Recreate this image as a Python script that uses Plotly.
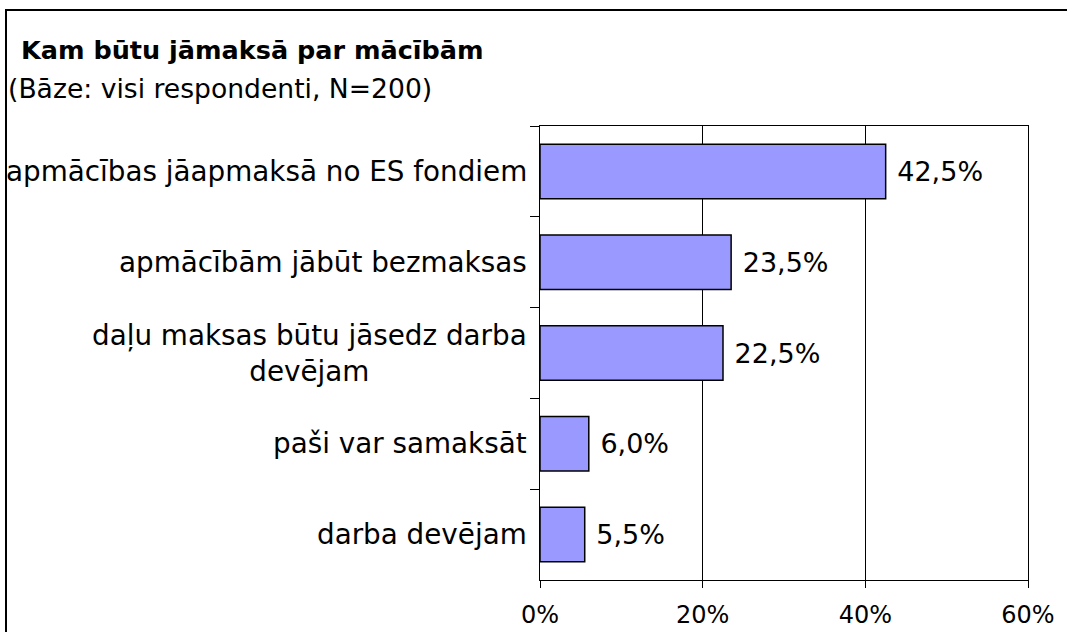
import plotly.graph_objects as go

categories = [
    "apmācības jāapmaksā no ES fondiem",
    "apmācībām jābūt bezmaksas",
    "daļu maksas būtu jāsedz darba<br>devējam",
    "paši var samaksāt",
    "darba devējam",
]
values = [42.5, 23.5, 22.5, 6.0, 5.5]
tick_vals = [0, 20, 40, 60]
tick_labels = ["0%", "20%", "40%", "60%"]
title_text = "Kam būtu jāmaksā par mācībām"
subtitle_text = "(Bāze: visi respondenti, N=200)"

W, H = 1067, 632
L, R, T, B = 540, 39, 126, 52
pw = W - L - R
ph = H - T - B

def px_x(px):
    return (px - L) / pw

def px_y(py):
    return (H - B - py) / ph

FONT = "DejaVu Sans"

fig = go.Figure(
    go.Bar(
        x=values,
        y=categories,
        orientation="h",
        marker=dict(color="#9999FF", line=dict(color="black", width=1.5)),
        texttemplate=" %{x:.1f}%",
        textposition="outside",
        textfont=dict(family=FONT, size=27, color="black"),
        cliponaxis=False,
        width=0.6,
    )
)

annotations = [
    dict(text="<b>" + title_text + "</b>", xref="paper", yref="paper",
         x=px_x(19), y=px_y(50), xanchor="left", yanchor="middle",
         showarrow=False, font=dict(family=FONT, size=25.5, color="black")),
    dict(text=subtitle_text, xref="paper", yref="paper",
         x=px_x(6), y=px_y(89), xanchor="left", yanchor="middle",
         showarrow=False, font=dict(family=FONT, size=26.6, color="black")),
]
for c in categories:
    annotations.append(dict(
        text=c, xref="paper", yref="y", x=px_x(529), y=c,
        xanchor="right", yanchor="middle", align="center", showarrow=False,
        font=dict(family=FONT, size=27.8, color="black"),
    ))

fig.update_layout(
    width=W, height=H,
    margin=dict(l=L, r=R, t=T, b=B, pad=0, autoexpand=False),
    paper_bgcolor="white", plot_bgcolor="white",
    separators=", ",
    showlegend=False,
    annotations=annotations,
    shapes=[dict(type="rect", xref="paper", yref="paper",
                 x0=px_x(6), x1=px_x(1080), y0=px_y(10), y1=px_y(660),
                 line=dict(color="black", width=2), fillcolor="rgba(0,0,0,0)",
                 layer="below")],
    xaxis=dict(
        range=[0, 60], tickvals=tick_vals, ticktext=tick_labels,
        showgrid=True, gridcolor="black", gridwidth=1,
        showline=True, linecolor="black", linewidth=1, mirror=True,
        ticks="outside", ticklen=7, tickcolor="black",
        ticklabelstandoff=6, automargin=False,
        tickfont=dict(family=FONT, size=24, color="black"),
        zeroline=False, fixedrange=True,
    ),
    yaxis=dict(
        type="category", categoryorder="array", categoryarray=categories,
        autorange="reversed", automargin=False,
        showticklabels=False, showgrid=False,
        showline=True, linecolor="black", linewidth=1, mirror=True,
        ticks="outside", ticklen=9, tickcolor="black", tickson="boundaries",
        zeroline=False, fixedrange=True,
    ),
)

fig.write_html("out.html", config={"displayModeBar": False},
               post_script="document.body.style.margin='0';")
